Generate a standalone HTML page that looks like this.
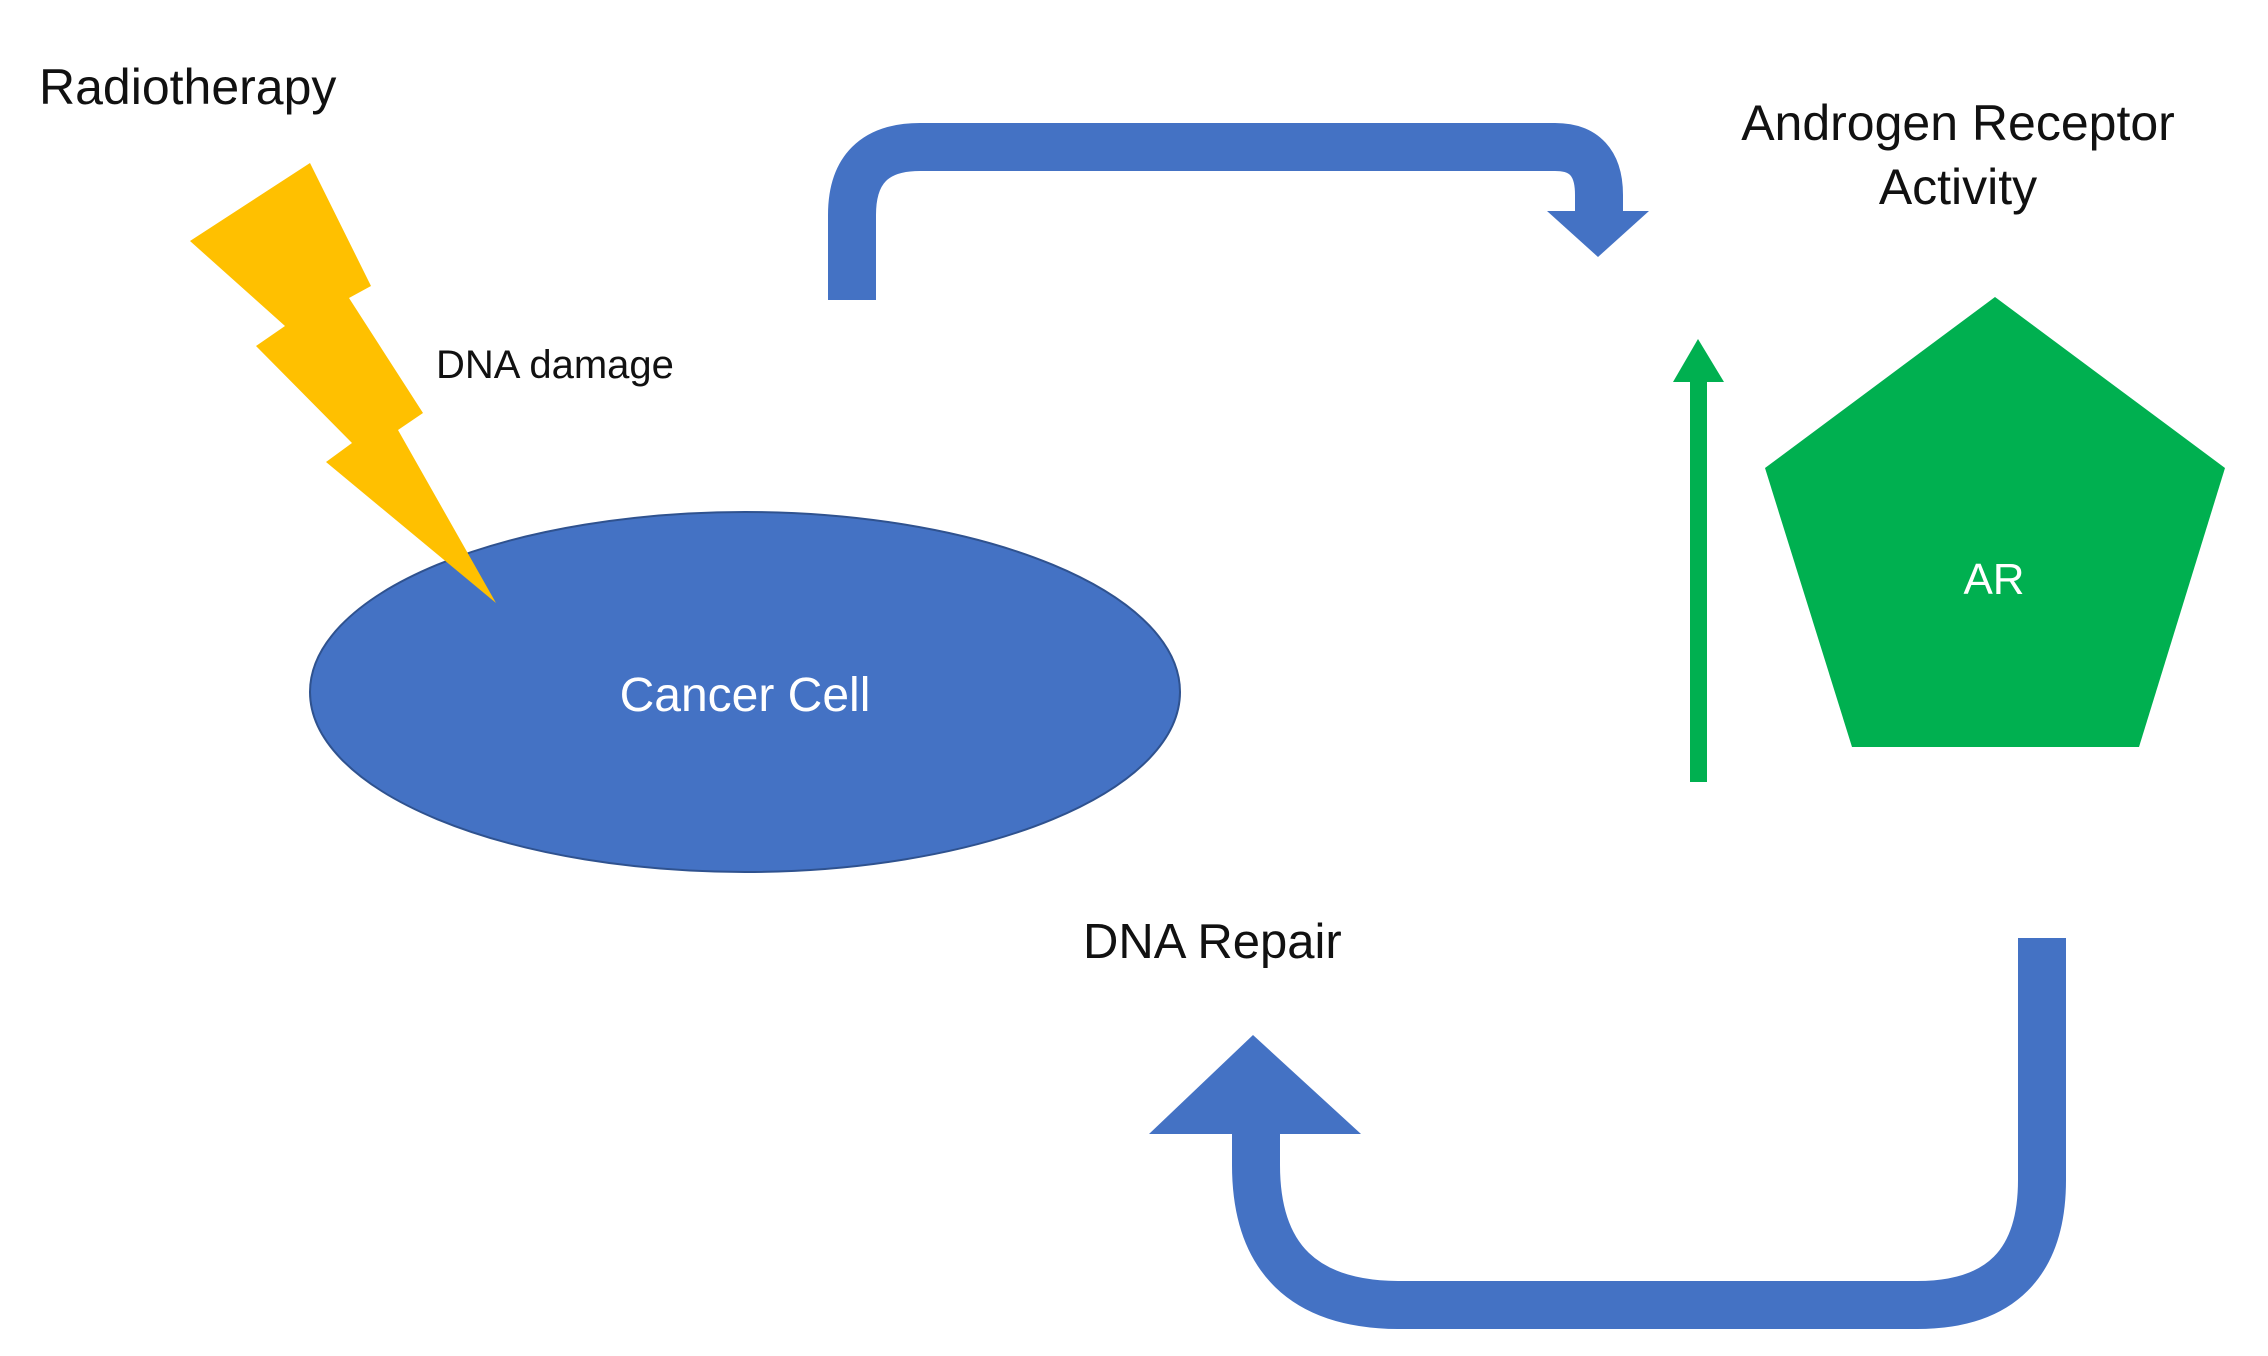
<!DOCTYPE html>
<html><head><meta charset="utf-8"><style>
html,body{margin:0;padding:0;background:#fff;}
svg{display:block;}
text{font-family:"Liberation Sans",sans-serif;}
</style></head><body>
<svg width="2268" height="1356" viewBox="0 0 2268 1356" xmlns="http://www.w3.org/2000/svg">
<rect width="2268" height="1356" fill="#fff"/>
<text x="39" y="104" font-size="50" fill="#111">Radiotherapy</text>
<text x="436" y="378" font-size="40" fill="#111">DNA damage</text>
<ellipse cx="745" cy="692" rx="435" ry="180" fill="#4472C4" stroke="#2F528F" stroke-width="2"/>
<polygon points="310,163 371,286 349,298 423,413 398,430 496,603 326,462 352,443 256,346 285,326 190,241" fill="#FFC000"/>
<text x="745" y="711" font-size="48" fill="#fff" text-anchor="middle">Cancer Cell</text>
<path d="M852,300 V215 Q852,147 920,147 H1555 Q1599,147 1599,195 V213" fill="none" stroke="#4472C4" stroke-width="48"/>
<polygon points="1547,211 1649,211 1598,257" fill="#4472C4"/>
<text x="1958" y="140" font-size="50" fill="#111" text-anchor="middle">Androgen Receptor</text>
<text x="1958" y="204" font-size="50" fill="#111" text-anchor="middle">Activity</text>
<rect x="1690" y="378" width="17" height="404" fill="#00B050"/>
<polygon points="1673,382 1724,382 1698,339" fill="#00B050"/>
<polygon points="1995,297 2225,468 2139,747 1852,747 1765,468" fill="#00B050"/>
<text x="1994" y="594" font-size="44" fill="#fff" text-anchor="middle">AR</text>
<text x="1083" y="958" font-size="49" fill="#111">DNA Repair</text>
<path d="M2042,938 V1180 Q2042,1305 1917,1305 H1400 Q1256,1305 1256,1165 V1132" fill="none" stroke="#4472C4" stroke-width="48"/>
<polygon points="1149,1134 1361,1134 1253,1035" fill="#4472C4"/>
</svg>
</body></html>
